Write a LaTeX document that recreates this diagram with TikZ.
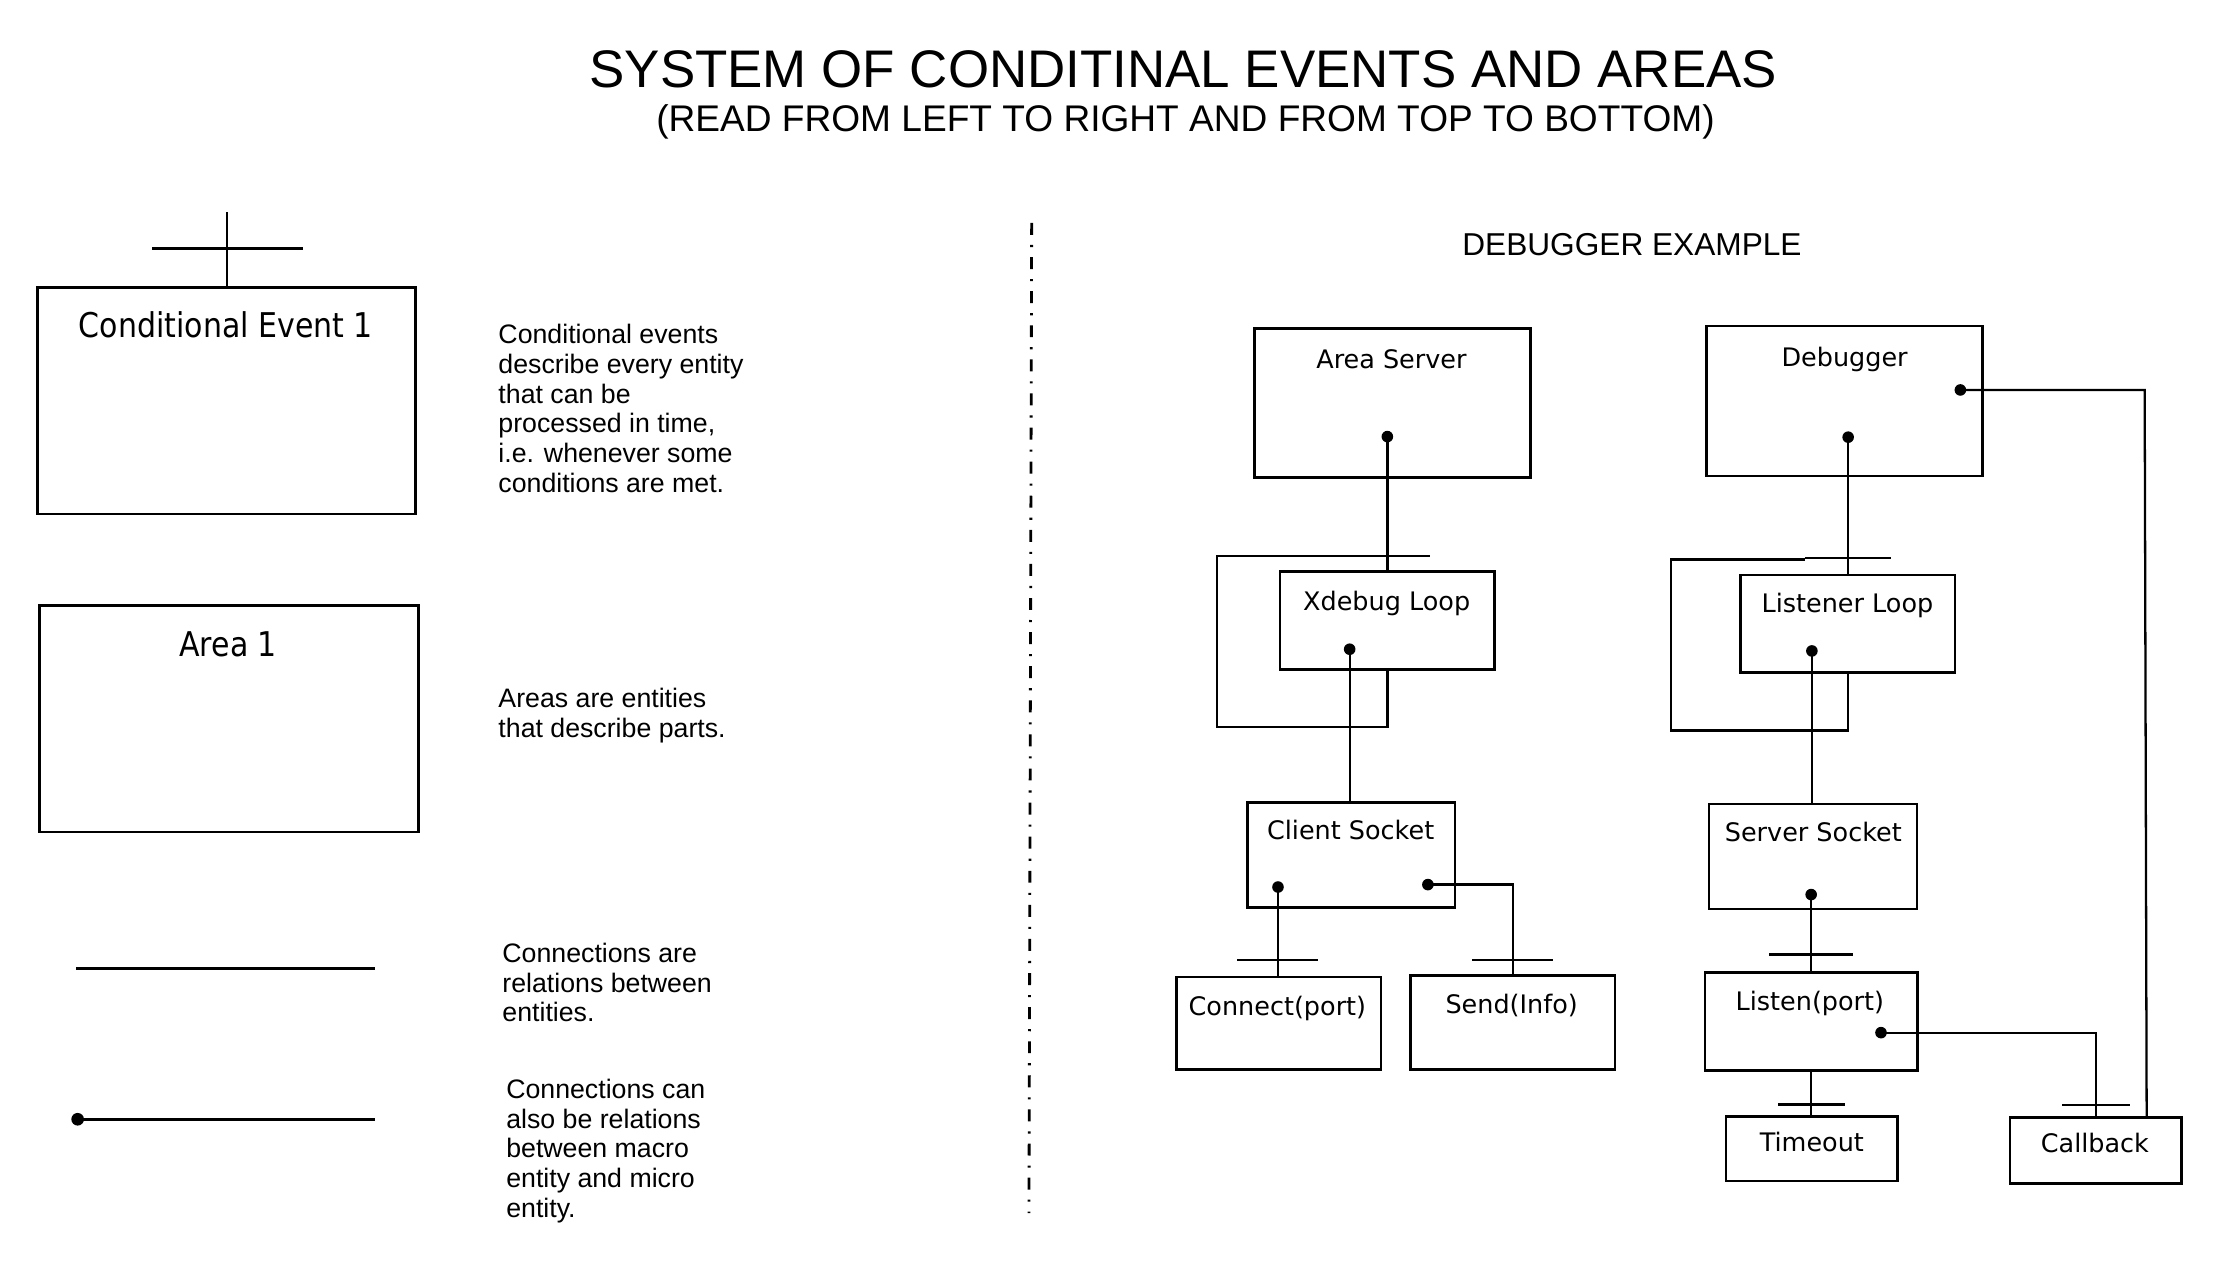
\documentclass[tikz,border=0pt]{standalone}
\usepackage{fontspec}
\setmainfont{Liberation Sans}
\newfontfamily\boxfont{DejaVu Sans}
\newfontfamily\legfont[FakeStretch=0.88]{DejaVu Sans}
\usetikzlibrary{calc}
\def\pxu{0.014222cm}
\tikzset{
  box/.style 2 args={draw, line width=0.8pt, minimum width=#1*\pxu, minimum height=#2*\pxu, inner sep=0pt},
  lbl/.style={font=\boxfont\fontsize{7.25}{8.7}\selectfont, anchor=base, inner sep=0pt},
  leglbl/.style={font=\legfont\fontsize{9.7}{11.6}\selectfont, anchor=base, inner sep=0pt},
  desc/.style={font=\fontsize{7.6}{8.44}\selectfont, align=left, anchor=north west, inner sep=0pt},
  conn/.style={line width=0.65pt},
  bar/.style={line width=0.7pt},
  legline/.style={line width=0.8pt},
  dotc/.style={fill=black},
  sep/.style={line width=0.8pt, dash pattern=on 3.4pt off 2.85pt on 0.6pt off 2.85pt}
}
\begin{document}
\begin{tikzpicture}[x=0.014222cm, y=-0.014222cm]
\useasboundingbox (0,0) rectangle (1568,890);

% titles
\node[font=\fontsize{15.05}{18}\selectfont, anchor=base, inner sep=0pt] (title) at (832,61.2) {SYSTEM OF CONDITINAL EVENTS AND AREAS};
\node[font=\fontsize{10.55}{12.5}\selectfont, anchor=base, inner sep=0pt] (subtitle) at (833.5,92.8) {(READ FROM LEFT TO RIGHT AND FROM TOP TO BOTTOM)};
\node[font=\fontsize{9}{11}\selectfont, anchor=base, inner sep=0pt] (dbgtitle) at (1147.5,179.5) {DEBUGGER EXAMPLE};

% separator
\draw[sep] (725.4,156.8) -- (723.5,853);

% ---------- legend ----------
\node[box={265.8}{159.4}] (ce) at (159.5,281.7) {};
\node[leglbl] (cet) at (158.8,237.4) {Conditional Event 1};
\coordinate (cetop) at (159.5,149.3);
\draw[bar] (cetop) -- (ce.north);
\draw[bar] ($(ce.north)+(-52.5,-26.2)$) -- ++(106,0);

\node[box={266}{159}] (ar) at (161,505.5) {};
\node[leglbl] (art) at (160.5,461.4) {Area 1};

\coordinate (l1a) at (53.5,680.8);
\coordinate (l1b) at (263.5,680.8);
\draw[legline] (l1a) -- (l1b);
\coordinate (l2a) at (54.6,787);
\coordinate (l2b) at (263.5,787);
\draw[legline] (l2a) -- (l2b);
\fill[dotc] (l2a) circle[radius=1.8pt];

\node[desc] (d1) at (350,227.6) {Conditional events\\describe every entity\\that can be\\processed in time,\\i.e. whenever some\\conditions are met.};
\node[desc] (d2) at (350,483.4) {Areas are entities\\that describe parts.};
\node[desc] (d3) at (352.8,662.6) {Connections are\\relations between\\entities.};
\node[desc] (d4) at (355.5,758.4) {Connections can\\also be relations\\between macro\\entity and micro\\entity.};

% ---------- debugger example ----------
\node[box={194}{105}] (as) at (979,283.5) {};
\node[lbl] at (978.4,259) {Area Server};
\node[box={194}{105.5}] (db) at (1297,282) {};
\node[lbl] at (1297,257.8) {Debugger};
\node[box={151}{69}] (xl) at (975.5,436.5) {};
\node[lbl] at (975,429) {Xdebug Loop};
\node[box={150.8}{68.7}] (ll) at (1299.2,438.65) {};
\node[lbl] at (1299,430.8) {Listener Loop};
\node[box={146}{74}] (cs) at (950,601) {};
\node[lbl] at (949.7,590.6) {Client Socket};
\node[box={146.2}{73.9}] (ss) at (1274.8,602.25) {};
\node[lbl] at (1275,591.8) {Server Socket};
\node[box={144}{65}] (cp) at (899,719.5) {};
\node[lbl] at (898.2,713.7) {Connect(port)};
\node[box={144}{66}] (si) at (1063.6,719) {};
\node[lbl] at (1062.9,712.5) {Send(Info)};
\node[box={149.2}{68.9}] (lp) at (1273.4,718) {};
\node[lbl] at (1272.6,710.2) {Listen(port)};
\node[box={120.7}{45.4}] (to) at (1274,807.7) {};
\node[lbl] at (1274,809.8) {Timeout};
\node[box={120.7}{46.7}] (cb) at (1473.6,809) {};
\node[lbl] at (1473,810.5) {Callback};

% dots
\coordinate (asd) at (975.5,307);
\coordinate (dbd) at (1299.5,307.4);
\coordinate (dbr) at (1378.4,274.2);
\coordinate (xld) at (949,456.5);
\coordinate (lld) at (1274,457.7);
\coordinate (csl) at (898.6,623.7);
\coordinate (csr) at (1004,622);
\coordinate (ssd) at (1273.5,629);
\coordinate (lpd) at (1322.6,726.1);
\foreach \d in {asd,dbd,dbr,xld,lld,csl,csr,ssd,lpd} \fill[dotc] (\d) circle[radius=1.65pt];

% connectors
\draw[conn] (asd) -- (asd |- xl.north);
\draw[conn] (dbd) -- (dbd |- ll.north);
\draw[conn] (xld) -- (xld |- cs.north);
\draw[conn] (lld) -- (lld |- ss.north);
\draw[conn] (csl) -- (csl |- cp.north);
\draw[conn] (csr) -| (si.north);
\draw[conn] (ssd) -- (ssd |- lp.north);
\draw[conn] (lp.south) -- (lp.south |- to.north);
\draw[conn] (lpd) -| (cb.north);
\draw[conn] (dbr) -- (1508,274.2) -- (1509.4,785.6);

% loops
\draw[conn] (xl.south) -- ++(0,39) -| (855.6,391) -- (1005.5,391);
\draw[conn] (ll.south) -- ++(0,39.6) -| (1175,393.5) -- (1269,393.5);
\draw[bar] (1269,392.4) -- (1329.3,392.4);

% bars
\draw[bar] ($(cp.north)+(-29,-11)$) -- ++(57,0);
\draw[bar] ($(si.north)+(-28.5,-10)$) -- ++(57,0);
\draw[bar] ($(lp.north)+(-29.4,-11.5)$) -- ++(58.7,0);
\draw[bar] ($(to.north)+(-23.5,-7.3)$) -- ++(47,0);
\draw[bar] ($(cb.north)+(-23.6,-7.7)$) -- ++(47.5,0);
\end{tikzpicture}
\end{document}
